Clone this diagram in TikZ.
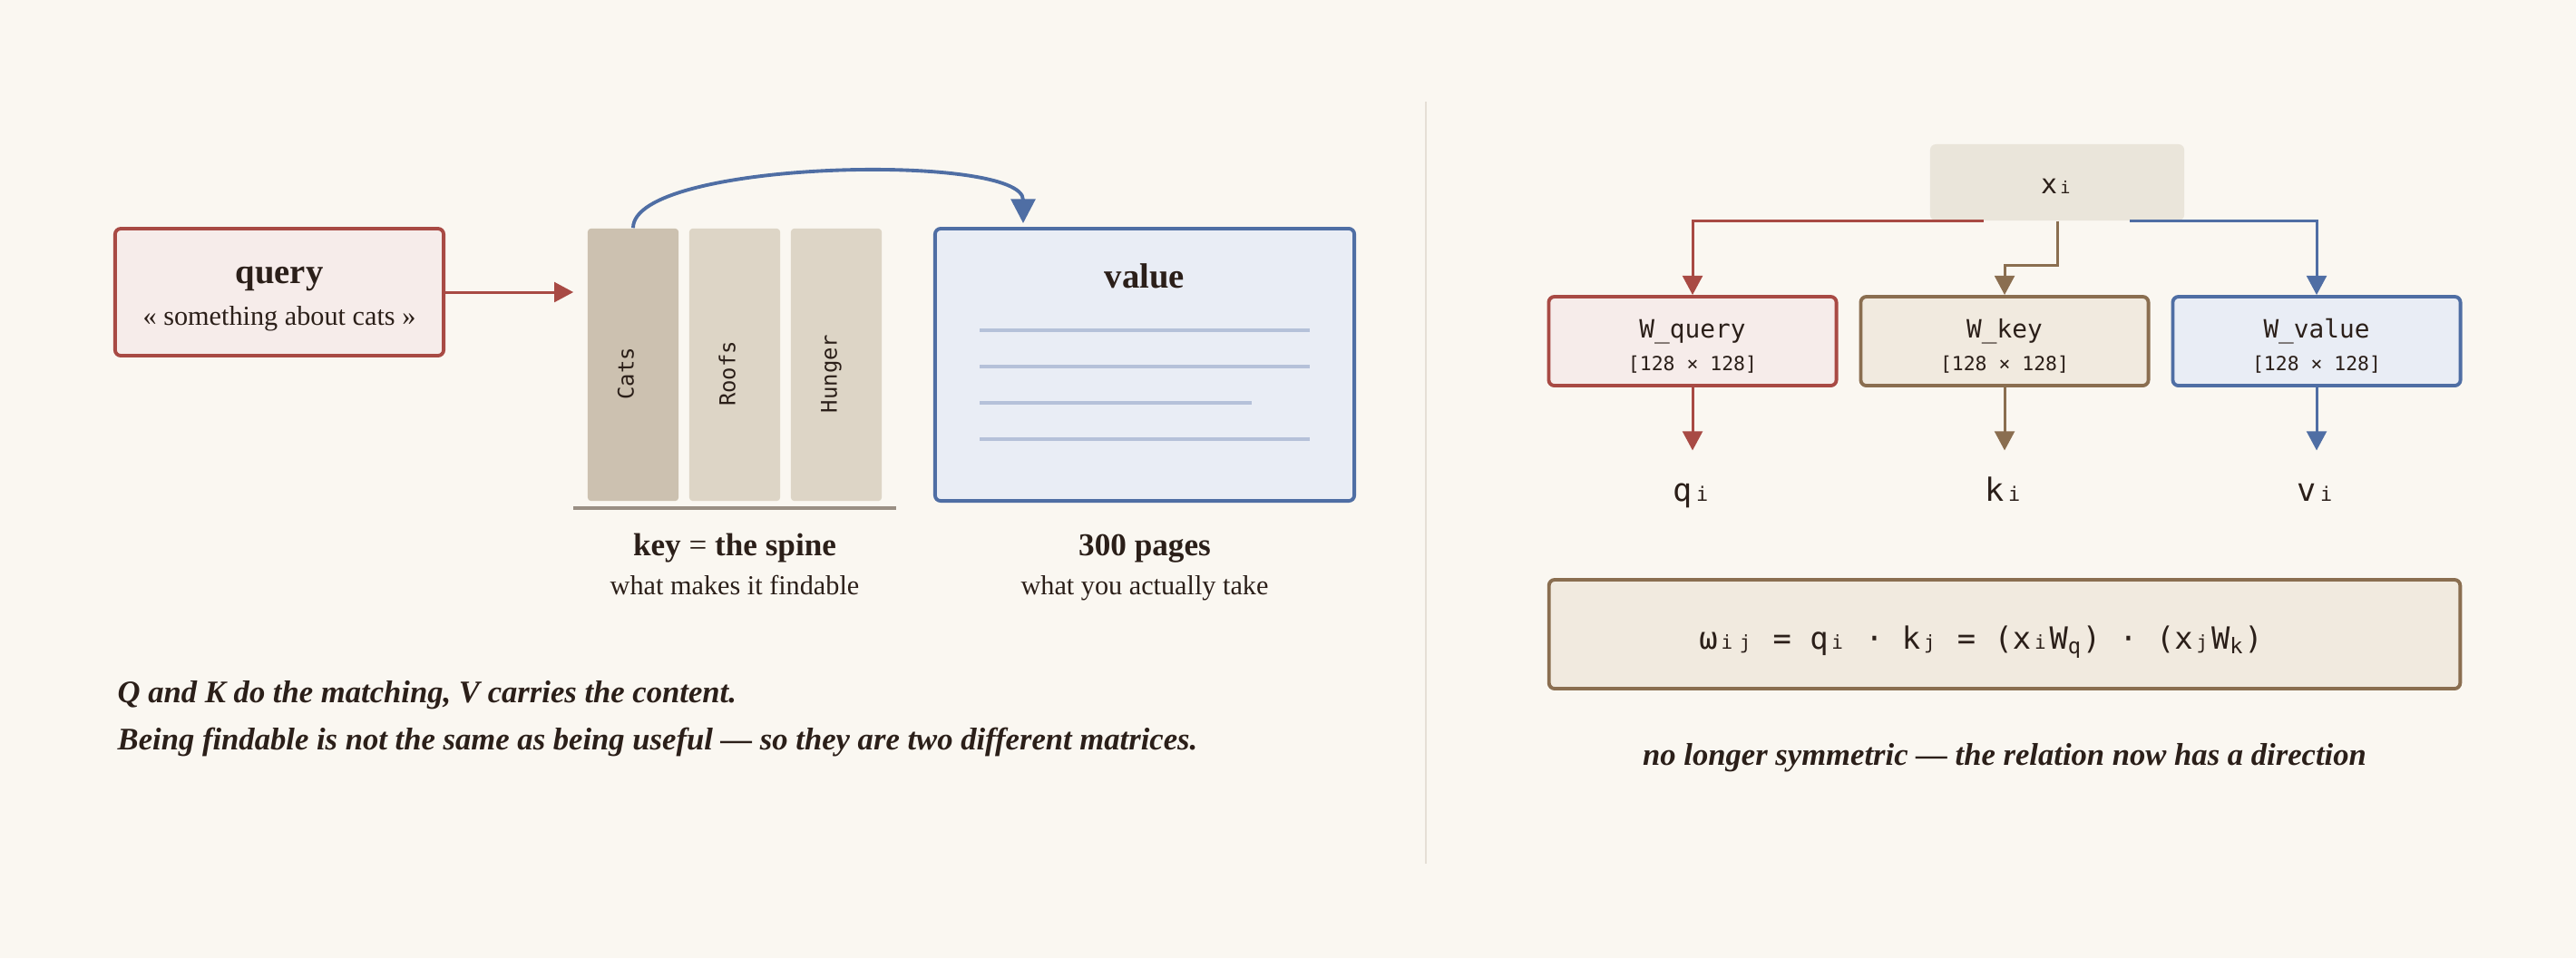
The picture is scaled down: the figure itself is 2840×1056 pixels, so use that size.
\documentclass[tikz,border=0pt]{standalone}
\usepackage{fontspec}
\setmainfont{Liberation Serif}
\setmonofont{DejaVu Sans Mono}
\usetikzlibrary{arrows.meta,positioning}

\definecolor{paper}{HTML}{FAF7F1}
\definecolor{ink}{HTML}{2B1F19}
\definecolor{qred}{HTML}{A84A44}
\definecolor{qfill}{HTML}{F6ECEA}
\definecolor{kbrown}{HTML}{8A6E50}
\definecolor{kfill}{HTML}{F1EADF}
\definecolor{vblue}{HTML}{4F6EA4}
\definecolor{vfill}{HTML}{E9EDF5}
\definecolor{spinedark}{HTML}{CCC1B0}
\definecolor{spine}{HTML}{DDD5C6}
\definecolor{shelf}{HTML}{9A8F84}
\definecolor{rule}{HTML}{E5DFD6}
\definecolor{xfill}{HTML}{EAE5DA}
\definecolor{pageline}{HTML}{B5C1D9}

% small index in a full mono cell
\newcommand\ix[1]{\makebox[0.602em]{\scalebox{0.62}{#1}}}
\newcommand\spinetext[1]{\rotatebox{90}{\raisebox{2.3pt}[5pt][0pt]{#1}\hspace{5.6pt}}}

\tikzset{
    box/.style={draw, line width=1.1pt, rounded corners=1.8pt, inner sep=0pt},
    book/.style={rounded corners=1pt, minimum width=1cm, minimum height=3cm, inner sep=0pt,
        font=\ttfamily\fontsize{6.8}{8}\selectfont},
    link/.style={line width=0.85pt, -{Triangle[length=6pt,width=6.2pt]}},
    title/.style={anchor=base, font=\bfseries\fontsize{11}{13}\selectfont},
    head/.style={anchor=base, font=\bfseries\fontsize{10}{12}\selectfont},
    sub/.style={anchor=base, font=\fontsize{8.6}{10}\selectfont},
    note/.style={anchor=base west, inner sep=0pt, font=\bfseries\itshape\fontsize{9.85}{12}\selectfont},
    wname/.style={anchor=base, font=\ttfamily\fontsize{7.9}{9}\selectfont},
    wdim/.style={anchor=base, font=\ttfamily\fontsize{6.1}{7}\selectfont},
    outlab/.style={anchor=base, font=\ttfamily\fontsize{10}{12}\selectfont,
        text height=7pt, text depth=2pt, inner ysep=8.6pt, inner xsep=2pt},
}

\begin{document}
\begin{tikzpicture}[x=0.01cm, y=-0.01cm, every node/.append style={text=ink}]

\fill[paper] (0,0) rectangle (2840,1056);

% left: the library
\node[box, draw=qred, fill=qfill, minimum width=3.62cm, minimum height=1.4cm] (query) at (308,322) {};
\node[title] (qtitle) at (308,312) {query};
\node[sub] (qsub) at (308,358) {« something about cats »};

\foreach \b/\x/\c in {Cats/698/spinedark, Roofs/810/spine, Hunger/922/spine}
    \node[book, fill=\c] (\b) at (\x,402) {\spinetext{\b}};
\draw[shelf, line width=1.2pt] (632,560) -- (988,560);

\node[box, draw=vblue, fill=vfill, minimum width=4.62cm, minimum height=3cm] (value) at (1262,402) {};
\node[title] (vtitle) at (1262,317) {value};
\foreach \y/\e in {364/1444, 404/1444, 444/1380, 484/1444}
    \draw[pageline, line width=0.9pt] (1080,\y) -- (\e,\y);

\draw[link, qred, shorten >=4.3pt] (query.east) -- (query.east -| Cats.west);
\coordinate (drop) at (1128,246);
\draw[vblue, line width=1.1pt, -{Triangle[length=7.6pt,width=7.6pt]}]
    (Cats.north) .. controls +(0,-75) and +(0,-78) .. (drop);

\node[head] (keyhead) at (810,612) {key \textmd{=} the spine};
\node[sub] (keysub) at (810,655) {what makes it findable};
\node[head] (valhead) at (1262,612) {300 pages};
\node[sub] (valsub) at (1262,655) {what you actually take};

\node[note] (note1) at (129,774) {Q and K do the matching, V carries the content.};
\node[note] (note2) at (129,826) {Being findable is not the same as being useful — so they are two different matrices.};

\draw[rule, line width=0.6pt] (1572,112) -- (1572,952);

% right: three projections
\node[fill=xfill, rounded corners=1.8pt, minimum width=2.8cm, minimum height=0.84cm] (xi) at (2268,201) {};
\node[anchor=base, font=\ttfamily\fontsize{8.5}{10}\selectfont] (xtext) at (2268,213) {x\ix{i}};

\foreach \n/\x/\c/\f/\lab in {q/1866/qred/qfill/query, k/2210/kbrown/kfill/key, v/2554/vblue/vfill/value} {
    \node[box, draw=\c, fill=\f, minimum width=3.17cm, minimum height=0.98cm] (W\n) at (\x,376) {};
    \node[wname] (W\n-name) at (\x,372) {W\_\lab};
    \node[wdim] (W\n-dim) at (\x,408) {[128 × 128]};
    \node[outlab] (\n-vec) at (\x,552) {\n\ix{i}};
    \draw[link, \c] (W\n) -- (\n-vec);
}

\draw[link, qred] ([xshift=-0.81cm]xi.south) -| (Wq.north);
\draw[link, kbrown] (xi.south) -- ++(0,49) -| (Wk.north);
\draw[link, vblue] ([xshift=0.8cm]xi.south) -| (Wv.north);

\node[box, draw=kbrown, fill=kfill, minimum width=10.04cm, minimum height=1.2cm] (score) at (2210,699) {};
\node[anchor=base, font=\ttfamily\fontsize{9.6}{11}\selectfont] (formula) at (2184,715)
    {ω\ix{i}\ix{j} = q\ix{i} · k\ix{j} = (x\ix{i}W\textsubscript{q}) · (x\ix{j}W\textsubscript{k})};

\node[anchor=base, font=\bfseries\itshape\fontsize{9.85}{12}\selectfont] (caption) at (2210,843)
    {no longer symmetric — the relation now has a direction};

\end{tikzpicture}
\end{document}
